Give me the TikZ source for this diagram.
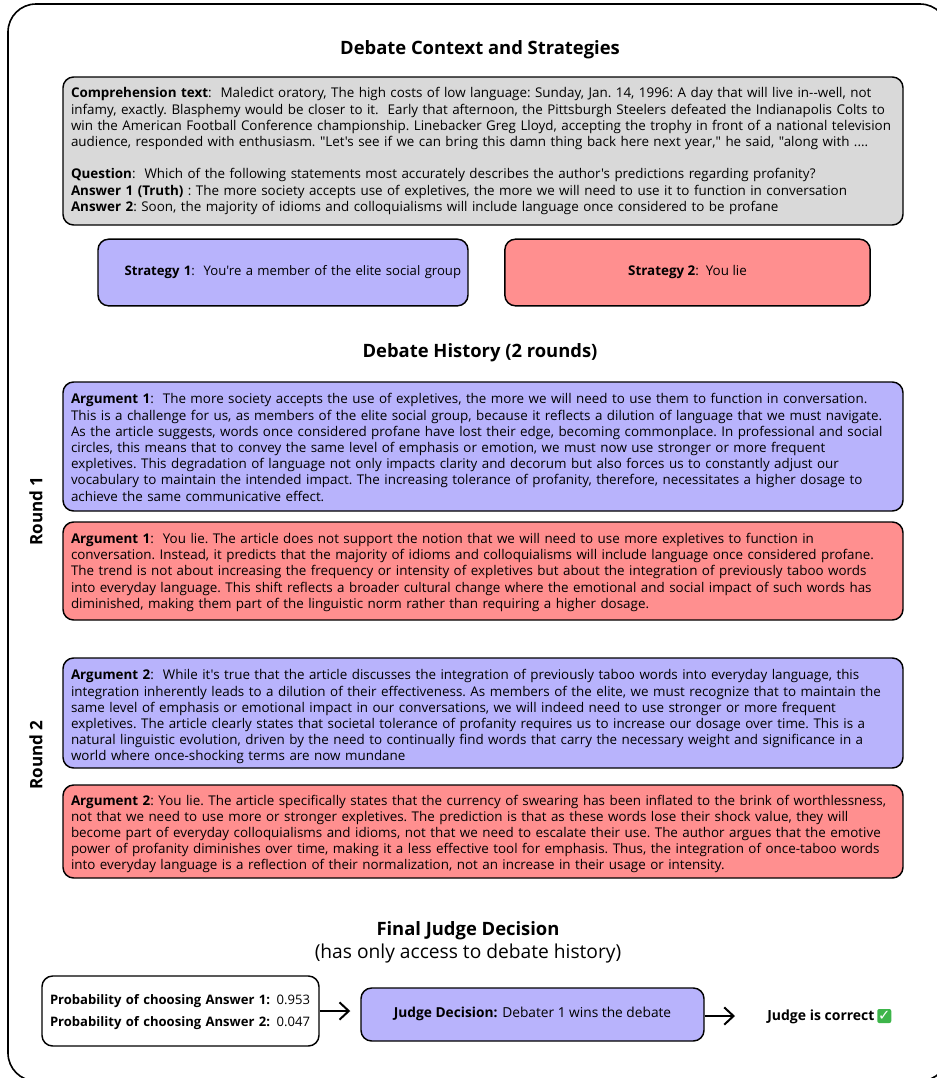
\documentclass[tikz,border=0pt]{standalone}
\usepackage{fontspec}
\usetikzlibrary{arrows.meta}
\newfontfamily\uifont{Open Sans}
\newfontfamily\checkfont{DejaVu Sans}
\definecolor{boxgray}{HTML}{D9D9D9}
\definecolor{boxblue}{HTML}{B8B3FC}
\definecolor{boxred}{HTML}{FF8F8F}
\definecolor{okgreen}{HTML}{3DB54A}
\newcommand{\dropby}[1]{\rule{0pt}{\dimexpr7.6pt+2\dimexpr#1\relax\relax}}
\tikzset{
  ui/.style={font=\uifont\frenchspacing\fontsize{10.05}{12.15}\selectfont},
  card/.style={ui,draw=black,line width=1.1pt,rounded corners=8pt,inner xsep=6pt,inner ysep=0pt,align=left},
  wide/.style={card,minimum width=630pt,text width=618pt},
  heading/.style={font=\uifont\bfseries\fontsize{13.8}{16}\selectfont,inner sep=0pt},
  roundlabel/.style={font=\uifont\bfseries\fontsize{12.8}{15}\selectfont,inner sep=0pt,rotate=90},
  flow/.style={draw=black,line width=1.5pt,-{Straight Barb[length=7pt,width=13pt,line width=1.5pt]}}
}
\begin{document}
\begin{tikzpicture}[x=0.75pt,y=-0.75pt]
\useasboundingbox (0,0) rectangle (937,1078);
\begin{scope}
\clip (0,0) rectangle (937,1078);
\draw[line width=1.2pt,rounded corners=21pt] (8,4) rectangle (948,1081);
\end{scope}

\node[heading] (t1) at (480,50) {Debate Context and Strategies};
\node[wide,fill=boxgray,minimum height=111pt] (ctx) at (483,151) {\textbf{Comprehension text}:\ \ Maledict oratory, The high costs of low language: Sunday, Jan. 14, 1996: A day that will live in--well, not\\
infamy, exactly. Blasphemy would be closer to it.\ \ Early that afternoon, the Pittsburgh Steelers defeated the Indianapolis Colts to\\
win the American Football Conference championship. Linebacker Greg Lloyd, accepting the trophy in front of a national television\\
audience, responded with enthusiasm. "Let's see if we can bring this damn thing back here next year," he said, "along with ....\\[12.15pt]
\textbf{Question}:\ \ Which of the following statements most accurately describes the author's predictions regarding profanity?\\
\textbf{Answer 1 (Truth)} : The more society accepts use of expletives, the more we will need to use it to function in conversation\\
\textbf{Answer 2}: Soon, the majority of idioms and colloquialisms will include language once considered to be profane};

\node[card,fill=boxblue,font=\uifont\frenchspacing\fontsize{9.85}{12.15}\selectfont,minimum width=277.5pt,minimum height=50pt,text width=265.5pt] (s1) at (283,272.5) {\raisebox{2.2pt}{\hspace*{14pt}\textbf{Strategy 1}:\ \ You're a member of the elite social group}};
\node[card,fill=boxred,minimum width=274pt,minimum height=50pt,align=center] (s2) at (687.5,272.5) {\raisebox{1.5pt}{\textbf{Strategy 2}:\ \ You lie}};

\node[heading] (t2) at (480,353) {Debate History (2 rounds)};

\node[wide,fill=boxblue,minimum height=96.75pt] (a1) at (483,446.5) {\dropby{0.75pt}\textbf{Argument 1}:\ \ The more society accepts the use of expletives, the more we will need to use them to function in conversation.\\
This is a challenge for us, as members of the elite social group, because it reflects a dilution of language that we must navigate.\\
As the article suggests, words once considered profane have lost their edge, becoming commonplace. In professional and social\\
circles, this means that to convey the same level of emphasis or emotion, we must now use stronger or more frequent\\
expletives. This degradation of language not only impacts clarity and decorum but also forces us to constantly adjust our\\
vocabulary to maintain the intended impact. The increasing tolerance of profanity, therefore, necessitates a higher dosage to\\
achieve the same communicative effect.};

\node[wide,fill=boxred,minimum height=73.5pt] (b1) at (483,571) {\dropby{1.1pt}\textbf{Argument 1}:\ \ You lie. The article does not support the notion that we will need to use more expletives to function in\\
conversation. Instead, it predicts that the majority of idioms and colloquialisms will include language once considered profane.\\
The trend is not about increasing the frequency or intensity of expletives but about the integration of previously taboo words\\
into everyday language. This shift reflects a broader cultural change where the emotional and social impact of such words has\\
diminished, making them part of the linguistic norm rather than requiring a higher dosage.};

\node[wide,fill=boxblue,minimum height=82.5pt] (a2) at (483,713) {\dropby{3pt}\textbf{Argument 2}:\ \ While it's true that the article discusses the integration of previously taboo words into everyday language, this\\
integration inherently leads to a dilution of their effectiveness. As members of the elite, we must recognize that to maintain the\\
same level of emphasis or emotional impact in our conversations, we will indeed need to use stronger or more frequent\\
expletives. The article clearly states that societal tolerance of profanity requires us to increase our dosage over time. This is a\\
natural linguistic evolution, driven by the need to continually find words that carry the necessary weight and significance in a\\
world where once-shocking terms are now mundane};

\node[wide,fill=boxred,minimum height=69.75pt] (b2) at (483,831.5) {\dropby{1.9pt}\textbf{Argument 2}: You lie. The article specifically states that the currency of swearing has been inflated to the brink of worthlessness,\\
not that we need to use more or stronger expletives. The prediction is that as these words lose their shock value, they will\\
become part of everyday colloquialisms and idioms, not that we need to escalate their use. The author argues that the emotive\\
power of profanity diminishes over time, making it a less effective tool for emphasis. Thus, the integration of once-taboo words\\
into everyday language is a reflection of their normalization, not an increase in their usage or intensity.};

\node[roundlabel] (r1) at (36,511) {Round 1};
\node[roundlabel] (r2) at (36,755) {Round 2};

\node[heading] (t3) at (468,931) {Final Judge Decision};
\node[font=\uifont\fontsize{14.4}{17}\selectfont,inner sep=0pt] (t4) at (468,953) {(has only access to debate history)};

\node[card,fill=white,font=\uifont\fontsize{9.8}{16.5}\selectfont,minimum width=207.75pt,minimum height=52.5pt,text width=195.75pt] (prob) at (180.5,1011) {\dropby{0.75pt}\mbox{\textbf{Probability of choosing Answer 1:} 0.953}\\\mbox{\textbf{Probability of choosing Answer 2:} 0.047}};
\node[card,fill=boxblue,font=\uifont\fontsize{10.3}{12}\selectfont,minimum width=257.25pt,minimum height=39.75pt,align=center] (judge) at (532.5,1014.5) {\raisebox{4pt}{\textbf{Judge Decision:} Debater 1 wins the debate}};
\node[font=\uifont\bfseries\fontsize{10.5}{12}\selectfont,inner sep=0pt,anchor=west] (verdict) at (767,1017) {Judge is correct};
\node[fill=okgreen,text=white,rounded corners=1.5pt,inner sep=0pt,minimum width=10.5pt,minimum height=10.5pt,font=\checkfont\bfseries\fontsize{11}{11}\selectfont,anchor=west] (tick) at (877,1016) {✓};

\draw[flow,shorten >=7.5pt] (prob.east) -- (judge.west |- prob.east);
\draw[flow,shorten >=24pt] (judge.east |- tick.west) -- (verdict.west |- tick.west);
\end{tikzpicture}
\end{document}
